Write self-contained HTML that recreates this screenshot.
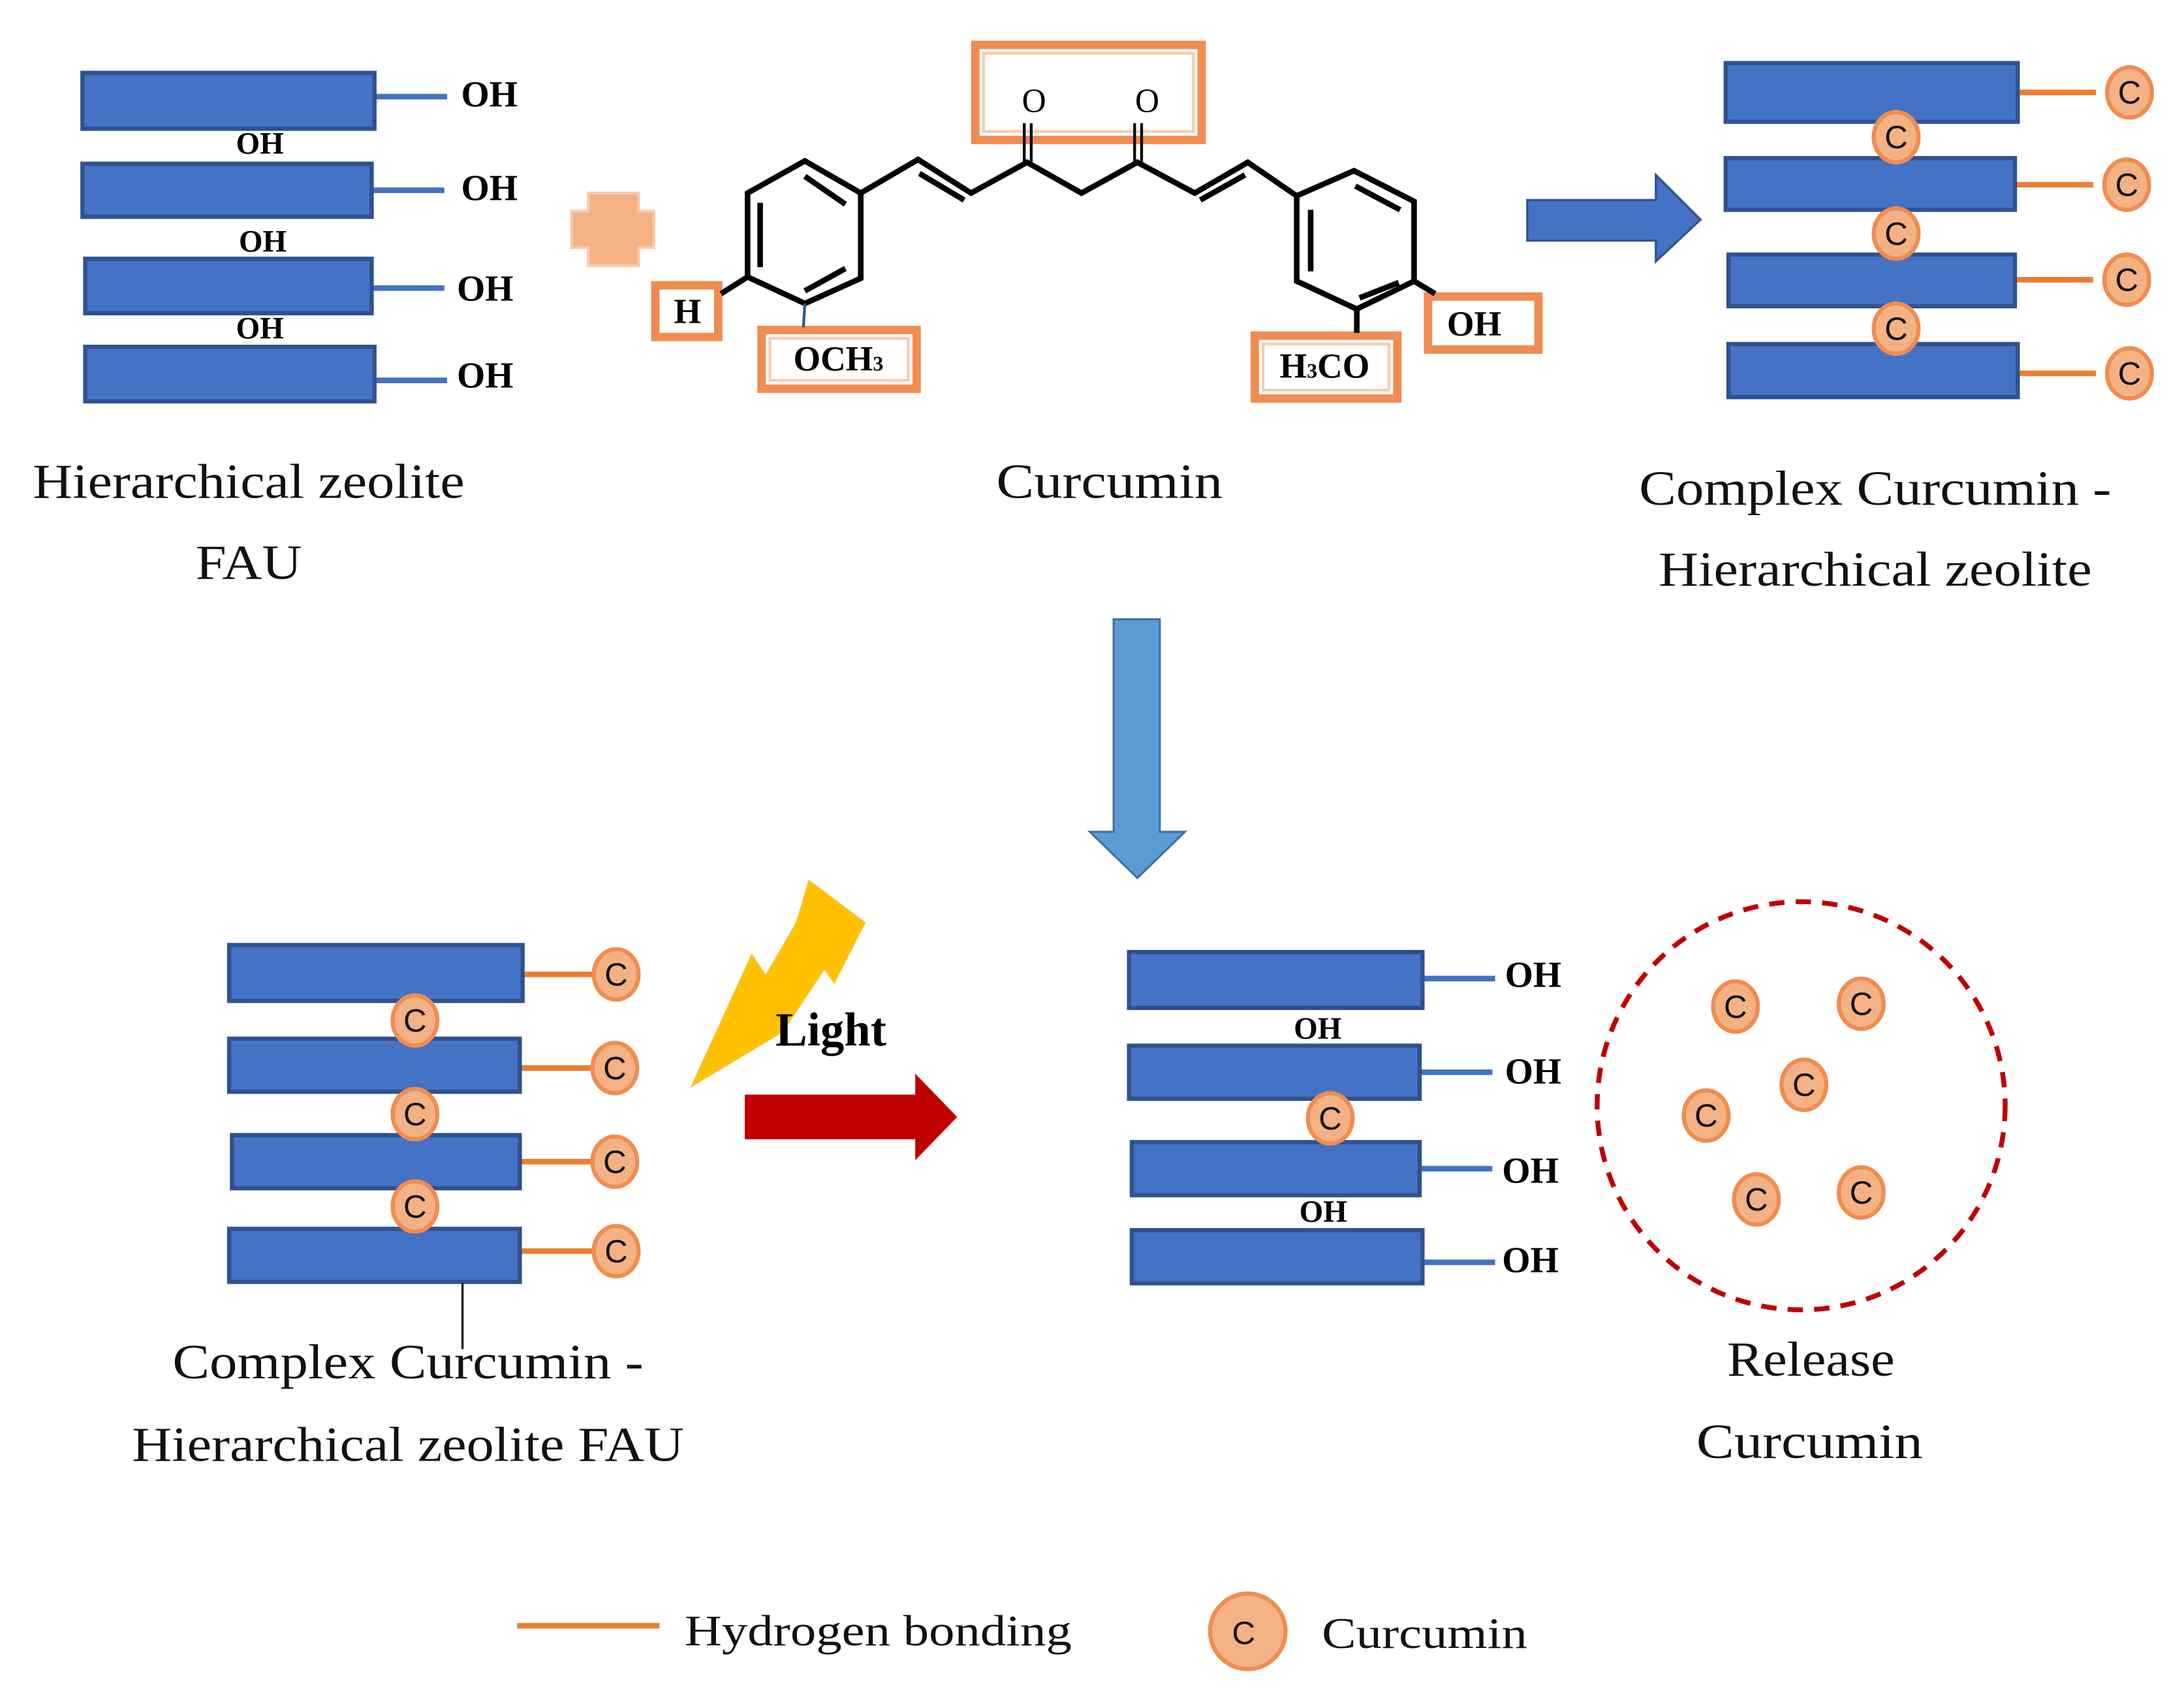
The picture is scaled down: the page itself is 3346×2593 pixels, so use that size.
<!DOCTYPE html>
<html><head><meta charset="utf-8"><style>
html,body{margin:0;padding:0;background:#fff;}
svg{display:block;}
.lbl{font-family:"Liberation Serif",serif;font-size:35px;fill:#111;text-anchor:middle;}
.oh{font-family:"Liberation Serif",serif;font-weight:bold;font-size:26px;fill:#000;}
.ohs{font-family:"Liberation Serif",serif;font-weight:bold;font-size:22px;fill:#000;text-anchor:middle;}
.c{font-family:"Liberation Sans",sans-serif;font-size:23px;fill:#111;text-anchor:middle;}
.bar{fill:#4472c4;stroke:#2f528f;stroke-width:3;}
.cc{fill:#f4b183;stroke:#f08c50;stroke-width:3;}
.box{fill:#fff;stroke:#f08c50;stroke-width:6;}
.boxi{fill:none;stroke:#f8cbad;stroke-width:2;}
.mol{fill:none;stroke:#000;stroke-width:4;stroke-linejoin:miter;}
</style></head><body>
<svg width="3346" height="2593" viewBox="0 0 1563 1211" xmlns="http://www.w3.org/2000/svg">
<defs>
<g id="cm"><ellipse cx="0" cy="0" rx="16" ry="18" class="cc"/><text x="0" y="8" class="c">C</text></g>
</defs>

<!-- Top-left zeolite -->
<g>
<line x1="268" y1="69" x2="320" y2="69" stroke="#4472c4" stroke-width="4"/>
<line x1="266" y1="136" x2="318" y2="136" stroke="#4472c4" stroke-width="4"/>
<line x1="266" y1="206" x2="318" y2="206" stroke="#4472c4" stroke-width="4"/>
<line x1="268" y1="272" x2="320" y2="272" stroke="#4472c4" stroke-width="4"/>
<rect x="59" y="52" width="209" height="40" class="bar"/>
<rect x="59" y="117" width="207" height="38" class="bar"/>
<rect x="61" y="185" width="205" height="39" class="bar"/>
<rect x="61" y="248" width="207" height="39" class="bar"/>
<text x="330" y="76" class="oh">OH</text>
<text x="330" y="143" class="oh">OH</text>
<text x="327" y="215" class="oh">OH</text>
<text x="327" y="277" class="oh">OH</text>
<text x="186" y="110" class="ohs">OH</text>
<text x="188" y="180" class="ohs">OH</text>
<text x="186" y="242" class="ohs">OH</text>
</g>
<text x="178" y="356" class="lbl" textLength="309" lengthAdjust="spacingAndGlyphs">Hierarchical zeolite</text>
<text x="178" y="414" class="lbl" textLength="76" lengthAdjust="spacingAndGlyphs">FAU</text>

<!-- plus -->
<path d="M421,138 H457 V151 H468 V177 H457 V190 H421 V177 H409 V151 H421 Z" fill="#f4b183" stroke="#f8cbad" stroke-width="2"/>

<!-- Curcumin molecule -->
<rect x="698" y="32" width="162" height="68" class="box"/>
<rect x="704" y="38" width="150" height="56" class="boxi"/>
<rect x="469" y="204" width="45" height="37" class="box"/>
<rect x="545" y="236" width="111" height="42" class="box"/>
<rect x="551" y="242" width="99" height="30" class="boxi"/>
<rect x="898" y="240" width="102" height="45" class="box"/>
<rect x="904" y="246" width="90" height="33" class="boxi"/>
<rect x="1022" y="212" width="79" height="38" class="box"/>
<g class="mol">
<polygon points="576,115 616,138 616,199 576,217 535,198 535,138"/>
<line x1="576" y1="126" x2="605" y2="146"/>
<line x1="605" y1="192" x2="576" y2="208"/>
<line x1="544" y1="145" x2="544" y2="191"/>
<polyline points="616,138 657,114 695,138 735,116 774,138 814,116 855,138 893,116 928,140"/>
<line x1="658" y1="124" x2="690" y2="143"/>
<line x1="859" y1="143" x2="891" y2="125"/>
<polygon points="928,140 969,122 1012,144 1012,201 971,221 928,201"/>
<line x1="970" y1="133" x2="1002" y2="150"/>
<line x1="938" y1="150" x2="938" y2="194"/>
<line x1="1001" y1="202" x2="973" y2="213"/>
<line x1="535" y1="198" x2="516" y2="210"/>
<line x1="971" y1="221" x2="971" y2="238"/>
<line x1="1012" y1="201" x2="1027" y2="210"/>
</g>
<line x1="576" y1="217" x2="575" y2="234" stroke="#2f5597" stroke-width="2"/>
<g stroke="#000" stroke-width="2">
<line x1="733" y1="116" x2="733" y2="88"/><line x1="738" y1="116" x2="738" y2="88"/>
<line x1="812" y1="116" x2="812" y2="88"/><line x1="817" y1="116" x2="817" y2="88"/>
</g>
<g font-family="Liberation Serif,serif" font-size="24" fill="#000" text-anchor="middle">
<text x="740" y="80">O</text><text x="821" y="80">O</text>
</g>
<g font-family="Liberation Serif,serif" font-weight="bold" font-size="25" fill="#000" text-anchor="middle">
<text x="492" y="231">H</text>
<text x="600" y="265">OCH<tspan font-size="15">3</tspan></text>
<text x="948" y="270">H<tspan font-size="15">3</tspan>CO</text>
<text x="1055" y="240">OH</text>
</g>
<text x="794" y="356" class="lbl" textLength="162" lengthAdjust="spacingAndGlyphs">Curcumin</text>

<!-- top blue arrow -->
<polygon points="1093,143 1185,143 1185,125 1217,157 1185,187 1185,172 1093,172" fill="#4472c4" stroke="#2f528f" stroke-width="1.5"/>

<!-- Top-right complex -->
<g>
<g stroke="#ed7d31" stroke-width="4">
<line x1="1444" y1="66" x2="1500" y2="66"/><line x1="1442" y1="132" x2="1498" y2="132"/>
<line x1="1442" y1="200" x2="1498" y2="200"/><line x1="1444" y1="267" x2="1500" y2="267"/>
</g>
<rect x="1235" y="45" width="209" height="42" class="bar"/>
<rect x="1235" y="113" width="207" height="37" class="bar"/>
<rect x="1237" y="182" width="205" height="37" class="bar"/>
<rect x="1237" y="246" width="207" height="38" class="bar"/>
<use href="#cm" x="1524" y="66"/><use href="#cm" x="1522" y="132"/>
<use href="#cm" x="1522" y="200"/><use href="#cm" x="1524" y="267"/>
<use href="#cm" x="1357" y="98"/><use href="#cm" x="1357" y="167"/><use href="#cm" x="1357" y="235"/>
</g>
<text x="1342" y="361" class="lbl" textLength="338" lengthAdjust="spacingAndGlyphs">Complex Curcumin -</text>
<text x="1342" y="419" class="lbl" textLength="310" lengthAdjust="spacingAndGlyphs">Hierarchical zeolite</text>

<!-- down arrow -->
<polygon points="797,443 830,443 830,595 848,595 814,628 780,595 797,595" fill="#5b9bd5" stroke="#41719c" stroke-width="1.5"/>

<!-- Bottom-left complex -->
<g>
<g stroke="#ed7d31" stroke-width="4">
<line x1="374" y1="697" x2="425" y2="697"/><line x1="372" y1="764" x2="425" y2="764"/>
<line x1="372" y1="831" x2="425" y2="831"/><line x1="372" y1="895" x2="425" y2="895"/>
</g>
<rect x="164" y="676" width="210" height="40" class="bar"/>
<rect x="164" y="743" width="208" height="38" class="bar"/>
<rect x="166" y="812" width="206" height="38" class="bar"/>
<rect x="164" y="879" width="208" height="38" class="bar"/>
<use href="#cm" x="441" y="697"/><use href="#cm" x="440" y="764"/>
<use href="#cm" x="440" y="831"/><use href="#cm" x="441" y="895"/>
<use href="#cm" x="297" y="730"/><use href="#cm" x="297" y="797"/><use href="#cm" x="297" y="863"/>
<line x1="331" y1="918" x2="331" y2="965" stroke="#000" stroke-width="1.5"/>
</g>
<text x="292" y="986" class="lbl" textLength="337" lengthAdjust="spacingAndGlyphs">Complex Curcumin -</text>
<text x="292" y="1045" class="lbl" textLength="395" lengthAdjust="spacingAndGlyphs">Hierarchical zeolite FAU</text>

<!-- lightning -->
<polygon points="579,630 619,660 597,703 590,693 560,738 495,777 538,683 548,698 570,660" fill="#ffc000" stroke="#f4c430" stroke-width="1"/>
<text x="555" y="748" font-family="Liberation Serif,serif" font-weight="bold" font-size="34" fill="#000">Light</text>
<!-- red arrow -->
<polygon points="533,783 655,783 655,768 685,799 655,830 655,815 533,815" fill="#c00000"/>

<!-- Bottom-right -->
<g>
<g stroke="#4472c4" stroke-width="4">
<line x1="1018" y1="700" x2="1070" y2="700"/><line x1="1016" y1="767" x2="1068" y2="767"/>
<line x1="1016" y1="836" x2="1068" y2="836"/><line x1="1018" y1="903" x2="1070" y2="903"/>
</g>
<rect x="808" y="681" width="210" height="40" class="bar"/>
<rect x="808" y="748" width="208" height="38" class="bar"/>
<rect x="810" y="817" width="206" height="38" class="bar"/>
<rect x="810" y="880" width="208" height="38" class="bar"/>
<text x="1077" y="706" class="oh">OH</text><text x="1077" y="775" class="oh">OH</text>
<text x="1075" y="846" class="oh">OH</text><text x="1075" y="910" class="oh">OH</text>
<text x="943" y="743" class="ohs">OH</text><text x="947" y="874" class="ohs">OH</text>
<use href="#cm" x="952" y="800"/>
</g>
<ellipse cx="1289" cy="791" rx="146" ry="146" fill="none" stroke="#c00000" stroke-width="3.5" stroke-dasharray="11,8"/>
<use href="#cm" x="1242" y="720"/><use href="#cm" x="1332" y="718"/><use href="#cm" x="1291" y="776"/>
<use href="#cm" x="1221" y="798"/><use href="#cm" x="1257" y="858"/><use href="#cm" x="1332" y="853"/>
<text x="1296" y="984" class="lbl" textLength="120" lengthAdjust="spacingAndGlyphs">Release</text>
<text x="1295" y="1043" class="lbl" textLength="162" lengthAdjust="spacingAndGlyphs">Curcumin</text>

<!-- legend -->
<line x1="370" y1="1163" x2="472" y2="1163" stroke="#ed7d31" stroke-width="4"/>
<text x="490" y="1177" font-family="Liberation Serif,serif" font-size="31" fill="#111" textLength="277" lengthAdjust="spacingAndGlyphs">Hydrogen bonding</text>
<ellipse cx="893" cy="1167" rx="27" ry="27" class="cc"/>
<text x="890" y="1176" class="c" font-size="24">C</text>
<text x="946" y="1179" font-family="Liberation Serif,serif" font-size="31" fill="#111" textLength="147" lengthAdjust="spacingAndGlyphs">Curcumin</text>
</svg>
</body></html>
